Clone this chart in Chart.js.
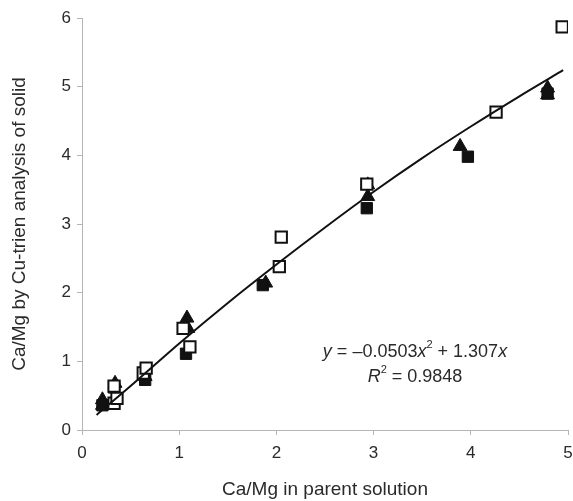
<!DOCTYPE html>
<html>
<head>
<meta charset="utf-8">
<script src="https://cdn.jsdelivr.net/npm/chart.js@4.4.1/dist/chart.umd.min.js"></script>
<style>
  html, body { margin: 0; padding: 0; background: #fff; }
  #wrap { width: 573px; height: 501px; }
</style>
</head>
<body>
<div id="wrap"><canvas id="chart1" width="573" height="501"></canvas></div>
<script>
// open squares
const openX = [0.33, 0.33, 0.36, 0.63, 0.66, 1.04, 1.11, 2.03, 2.05, 2.93, 4.26, 4.94];
const openY = [0.64, 0.39, 0.46, 0.83, 0.90, 1.48, 1.21, 2.38, 2.81, 3.58, 4.63, 5.87];
// filled squares
const fillX = [0.21, 0.33, 0.65, 1.07, 1.86, 2.93, 3.97, 4.79];
const fillY = [0.36, 0.62, 0.73, 1.11, 2.11, 3.23, 3.98, 4.90];
// filled triangles
const triX = [0.21, 0.21, 0.34, 0.65, 1.08, 1.09, 1.89, 2.94, 2.94, 3.89, 4.79, 4.79];
const triY = [0.44, 0.36, 0.68, 0.78, 1.63, 1.48, 2.14, 3.40, 3.57, 4.13, 4.98, 4.88];
// fitted trend line
const trendX = [0.15, 0.5, 1, 1.5, 2, 2.5, 3, 3.5, 4, 4.5, 4.95];
const trendY = [0.22, 0.64, 1.26, 1.85, 2.41, 2.95, 3.47, 3.96, 4.42, 4.86, 5.24];

const xTicks = [0, 1, 2, 3, 4, 5];
const yTicks = [0, 1, 2, 3, 4, 5, 6];

function pts(xs, ys) {
  return xs.map((x, i) => ({ x: x, y: ys[i] }));
}

const fontFam = '"Liberation Sans", Arial, sans-serif';
const textCol = '#2a2a2a';

const equationPlugin = {
  id: 'equation',
  afterDraw(chart) {
    const ctx = chart.ctx;
    const lines = [
      { y: 352, parts: [
        { t: 'y', i: true }, { t: ' = \u20130.0503' }, { t: 'x', i: true },
        { t: '2', sup: true }, { t: ' + 1.307' }, { t: 'x', i: true }] },
      { y: 377, parts: [
        { t: 'R', i: true }, { t: '2', sup: true }, { t: ' = 0.9848' }] }
    ];
    const cx = 415;
    ctx.save();
    ctx.fillStyle = textCol;
    ctx.textBaseline = 'middle';
    ctx.textAlign = 'left';
    lines.forEach(line => {
      const fonts = line.parts.map(p =>
        (p.i ? 'italic ' : '') + (p.sup ? '11px ' : '18px ') + fontFam);
      let total = 0;
      const widths = line.parts.map((p, k) => {
        ctx.font = fonts[k];
        const w = ctx.measureText(p.t).width;
        total += w;
        return w;
      });
      let x = cx - total / 2;
      line.parts.forEach((p, k) => {
        ctx.font = fonts[k];
        ctx.fillText(p.t, x, p.sup ? line.y - 7 : line.y);
        x += widths[k];
      });
    });
    ctx.restore();
  }
};

document.addEventListener("DOMContentLoaded", function() {
  const ctx1 = document.getElementById('chart1').getContext('2d');
  const chart1 = new Chart(ctx1, {
    type: 'scatter',
    data: {
      datasets: [{
        label: 'trend',
        type: 'line',
        data: pts(trendX, trendY),
        borderColor: '#111',
        borderWidth: 2,
        pointRadius: 0,
        tension: 0.3,
        fill: false
      }, {
        label: 'open',
        data: pts(openX, openY),
        pointStyle: 'rect',
        pointRadius: 8,
        backgroundColor: '#fff',
        borderColor: '#111',
        borderWidth: 2
      }, {
        label: 'filled',
        data: pts(fillX, fillY),
        pointStyle: 'rect',
        pointRadius: 8,
        backgroundColor: '#111',
        borderColor: '#111',
        borderWidth: 1
      }, {
        label: 'triangle',
        data: pts(triX, triY),
        pointStyle: 'triangle',
        pointRadius: 8,
        backgroundColor: '#111',
        borderColor: '#111',
        borderWidth: 1
      }]
    },
    options: {
      responsive: false,
      animation: false,
      events: [],
      layout: { autoPadding: false, padding: { top: 18, right: 5, left: 0, bottom: 0 } },
      plugins: {
        legend: { display: false },
        tooltip: { enabled: false }
      },
      scales: {
        x: {
          type: 'linear',
          min: 0,
          max: 5,
          afterBuildTicks: s => { s.ticks = xTicks.map(v => ({ value: v })); },
          afterFit: s => { s.height = 71; s.paddingRight = 0; s.paddingLeft = 0; },
          grid: { display: true, drawOnChartArea: false, drawTicks: true, tickLength: 5, color: '#b5b5b5', lineWidth: 1 },
          border: { color: '#b5b5b5', width: 1 },
          ticks: { color: textCol, font: { family: fontFam, size: 17 }, padding: 8 },
          title: { display: true, text: 'Ca/Mg in parent solution', color: textCol, font: { family: fontFam, size: 19 }, padding: { top: 4, bottom: 0 } }
        },
        y: {
          type: 'linear',
          min: 0,
          max: 6,
          afterBuildTicks: s => { s.ticks = yTicks.map(v => ({ value: v })); },
          afterFit: s => { s.width = 82; s.paddingTop = 0; s.paddingBottom = 0; },
          grid: { display: true, drawOnChartArea: false, drawTicks: true, tickLength: 5, color: '#b5b5b5', lineWidth: 1 },
          border: { color: '#b5b5b5', width: 1 },
          ticks: { color: textCol, font: { family: fontFam, size: 17 }, padding: 6 },
          title: { display: true, text: 'Ca/Mg by Cu-trien analysis of solid', color: textCol, font: { family: fontFam, size: 19 }, padding: { top: 8, bottom: 0 } }
        }
      }
    },
    plugins: [equationPlugin]
  });
});
</script>
</body>
</html>
